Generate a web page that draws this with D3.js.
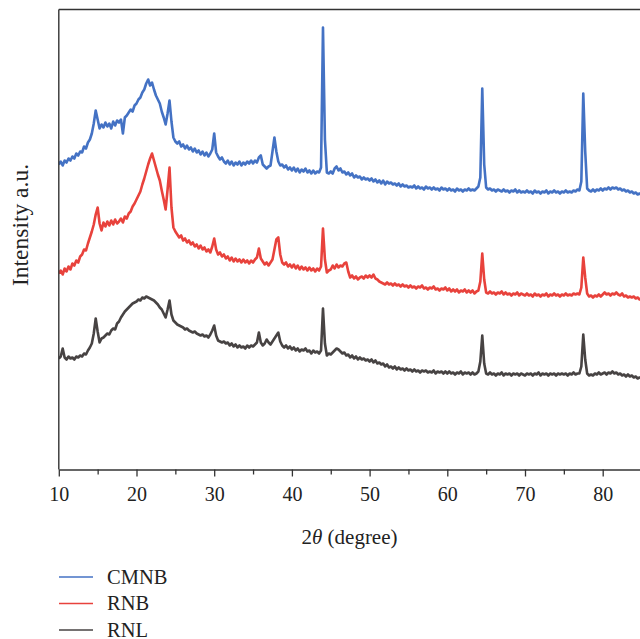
<!DOCTYPE html>
<html>
<head>
<meta charset="utf-8">
<script src="https://cdn.jsdelivr.net/npm/d3@7"></script>
<style>
  html, body { margin: 0; padding: 0; background: #fff; }
  svg { display: block; }
  text { font-family: "Liberation Serif", "DejaVu Serif", serif; fill: #222; }
</style>
</head>
<body>
<svg id="chart" width="640" height="639"></svg>
<script>
// XRD patterns, 2θ sampled every 0.25° from 10° to 85°
const angleStart = 10;
const angleStep = 0.25;

const seriesNames = ["CMNB", "RNB", "RNL"];
const seriesColors = ["#4472C4", "#E8423C", "#474343"];

const xMajorTicks = [10, 20, 30, 40, 50, 60, 70, 80];
const xMinorTicks = [15, 25, 35, 45, 55, 65, 75, 85];

// intensity (a.u.), one row per 5°
const cmnb = [
  305,308,304,309,307,311,309,313,311,316,314,318,317,323,321,327,330,336,346,359,
  350,341,345,342,347,343,346,341,348,344,349,347,350,336,352,354,357,360,358,364,
  366,370,372,377,380,386,390,384,387,380,374,370,366,358,352,345,356,369,348,332,
  328,326,328,323,325,321,324,320,322,318,321,317,319,315,318,314,317,313,316,320,
  336,317,313,310,312,308,306,309,305,308,304,307,305,308,304,307,305,308,306,309,
  306,309,307,312,314,305,303,301,303,304,318,332,318,308,304,305,302,304,300,302,
  299,302,298,301,297,300,298,301,297,299,296,299,296,298,297,302,442,330,297,296,
  298,296,301,303,299,301,297,298,295,297,294,296,292,294,292,293,290,292,290,291,
  289,291,288,290,287,289,286,289,285,288,286,287,285,286,284,286,283,285,283,284,
  282,283,282,284,281,283,281,282,280,283,281,282,280,282,280,281,279,282,280,281,
  279,281,279,280,278,281,279,280,278,280,279,281,279,280,279,281,283,292,381,305,
  282,280,281,279,280,278,280,279,278,280,278,279,277,279,278,280,277,279,277,278,
  277,279,277,278,276,279,277,278,276,278,277,279,276,278,277,279,277,278,276,278,
  277,279,277,278,277,279,278,280,279,288,376,318,281,279,278,280,278,280,279,281,
  279,281,280,282,280,282,281,282,280,281,279,280,278,279,277,278,276,277,275,276,
  275
];

const rnb = [
  196,199,195,201,198,203,200,206,204,209,207,213,215,220,219,226,232,238,245,255,
  262,246,239,247,243,248,244,249,245,250,246,248,251,247,253,251,256,258,263,266,
  270,274,278,285,291,298,305,311,316,309,302,295,289,279,270,260,280,302,262,242,
  238,235,232,234,229,231,227,229,225,227,223,225,221,224,220,222,218,220,217,223,
  231,220,215,217,213,215,211,213,209,212,208,211,208,210,207,210,207,209,206,209,
  207,210,212,221,211,208,205,207,204,207,210,220,230,232,215,207,205,207,203,205,
  202,205,201,204,200,203,200,202,199,202,199,201,198,201,199,203,241,210,197,199,
  200,204,201,205,202,204,203,206,207,198,192,194,191,193,190,192,193,191,194,192,
  194,192,195,191,190,188,187,186,185,187,185,186,184,186,184,185,183,185,183,184,
  182,184,182,183,181,183,182,184,181,182,180,182,181,183,180,181,179,181,180,182,
  179,181,178,180,178,180,177,179,178,180,177,179,177,179,176,178,179,188,216,190,
  177,176,178,176,177,175,177,176,178,175,177,175,176,174,176,175,177,174,176,175,
  174,176,174,175,173,176,174,175,173,175,174,176,173,175,174,176,174,175,173,175,
  174,176,174,175,174,176,175,176,175,182,212,192,176,173,174,172,174,173,175,173,
  175,177,175,176,174,176,175,177,175,174,176,173,174,172,173,172,173,171,172,170,
  171
];

const rnl = [
  111,113,121,112,110,113,111,112,110,113,112,114,113,116,115,119,122,126,136,151,
  138,127,131,132,134,136,135,139,141,140,146,148,152,155,158,160,162,164,166,167,
  168,170,169,172,171,173,172,171,170,169,167,165,162,160,156,152,160,169,155,149,
  147,145,144,143,142,140,141,139,138,137,138,136,135,134,135,133,134,132,135,139,
  144,134,129,128,127,128,126,127,124,126,123,125,122,124,122,123,121,124,122,124,
  123,125,127,137,127,124,126,130,127,125,128,131,134,137,128,124,122,124,121,123,
  120,122,119,121,118,120,119,121,118,119,116,119,117,118,116,119,161,126,114,116,
  115,117,119,121,120,118,116,117,114,115,112,114,111,113,110,112,110,111,109,110,
  108,110,107,109,106,107,105,106,103,105,102,103,101,103,100,102,100,101,99,101,
  99,100,98,100,98,99,97,99,98,99,97,98,97,99,96,98,97,98,96,98,
  96,98,96,97,95,97,96,98,95,97,96,97,95,97,95,96,98,108,134,106,
  96,95,97,95,96,94,96,95,97,94,96,95,96,94,96,95,96,94,96,95,
  94,96,95,96,94,96,95,97,94,96,95,96,94,96,95,96,94,96,95,96,
  95,96,94,96,95,97,95,96,96,103,135,110,96,94,95,94,96,95,97,95,
  96,97,95,97,96,98,96,97,95,96,94,95,93,95,93,94,92,93,91,92,
  92
];

const seriesValues = [cmnb, rnb, rnl];

const svg = d3.select("#chart");
const width = 640;

const plotLeft = 58.8, plotTop = 9.5, plotBottom = 469.5;
const pxPerDegree = 7.77;

const x = d3.scaleLinear()
  .domain([10, 90])
  .range([plotLeft, plotLeft + 80 * pxPerDegree]);
const y = d3.scaleLinear()
  .domain([0, 460])
  .range([plotBottom, plotTop]);

svg.append("defs").append("clipPath").attr("id", "plot-clip")
  .append("rect")
  .attr("x", plotLeft).attr("y", 0)
  .attr("width", width - plotLeft).attr("height", plotBottom);

const line = d3.line()
  .x((d, i) => x(angleStart + i * angleStep))
  .y(d => y(d));

const lines = svg.append("g").attr("clip-path", "url(#plot-clip)");
seriesValues.forEach((vals, k) => {
  lines.append("path")
    .datum(vals)
    .attr("fill", "none")
    .attr("stroke", seriesColors[k])
    .attr("stroke-width", 2.6)
    .attr("stroke-linejoin", "round")
    .attr("d", line);
});

const axisColor = "#333";

// frame: top and left edges
svg.append("line")
  .attr("x1", plotLeft).attr("x2", width)
  .attr("y1", plotTop).attr("y2", plotTop)
  .attr("stroke", axisColor).attr("stroke-width", 1.4);
svg.append("line")
  .attr("x1", plotLeft).attr("x2", plotLeft)
  .attr("y1", plotTop).attr("y2", plotBottom)
  .attr("stroke", axisColor).attr("stroke-width", 1.4);

// bottom axis with major labelled ticks
const xAxis = svg.append("g")
  .attr("transform", `translate(0,${plotBottom})`)
  .call(d3.axisBottom(x).tickValues(xMajorTicks).tickSize(7).tickSizeOuter(0).tickFormat(d3.format("d")));
xAxis.select(".domain").attr("stroke", axisColor).attr("stroke-width", 1.4);
xAxis.selectAll(".tick line").attr("stroke", axisColor).attr("stroke-width", 1.3);
xAxis.selectAll(".tick text")
  .attr("y", 31.5).attr("dy", 0)
  .style("font-size", "20px")
  .style("font-family", "'Liberation Serif', serif")
  .attr("fill", "#222");

// minor ticks
const xMinor = svg.append("g")
  .attr("transform", `translate(0,${plotBottom})`)
  .call(d3.axisBottom(x).tickValues(xMinorTicks).tickSize(5).tickSizeOuter(0).tickFormat(""));
xMinor.select(".domain").remove();
xMinor.selectAll(".tick line").attr("stroke", axisColor).attr("stroke-width", 1.3);

// axis titles
const xTitle = svg.append("text")
  .attr("x", 349.5).attr("y", 544)
  .attr("text-anchor", "middle")
  .style("font-size", "21px");
xTitle.append("tspan").text("2");
xTitle.append("tspan").attr("font-style", "italic").text("θ");
xTitle.append("tspan").text(" (degree)");

svg.append("text")
  .attr("transform", "translate(28,225) rotate(-90)")
  .attr("text-anchor", "middle")
  .style("font-size", "23.5px")
  .text("Intensity a.u.");

// legend
const legendRows = [577, 603.5, 630];
seriesNames.forEach((name, k) => {
  const g = svg.append("g").attr("transform", `translate(0,${legendRows[k]})`);
  g.append("line")
    .attr("x1", 59).attr("x2", 93)
    .attr("y1", 0).attr("y2", 0)
    .attr("stroke", seriesColors[k]).attr("stroke-width", 1.6);
  g.append("text")
    .attr("x", 107).attr("y", 6.5)
    .style("font-size", "20.5px")
    .text(name);
});
</script>
</body>
</html>
